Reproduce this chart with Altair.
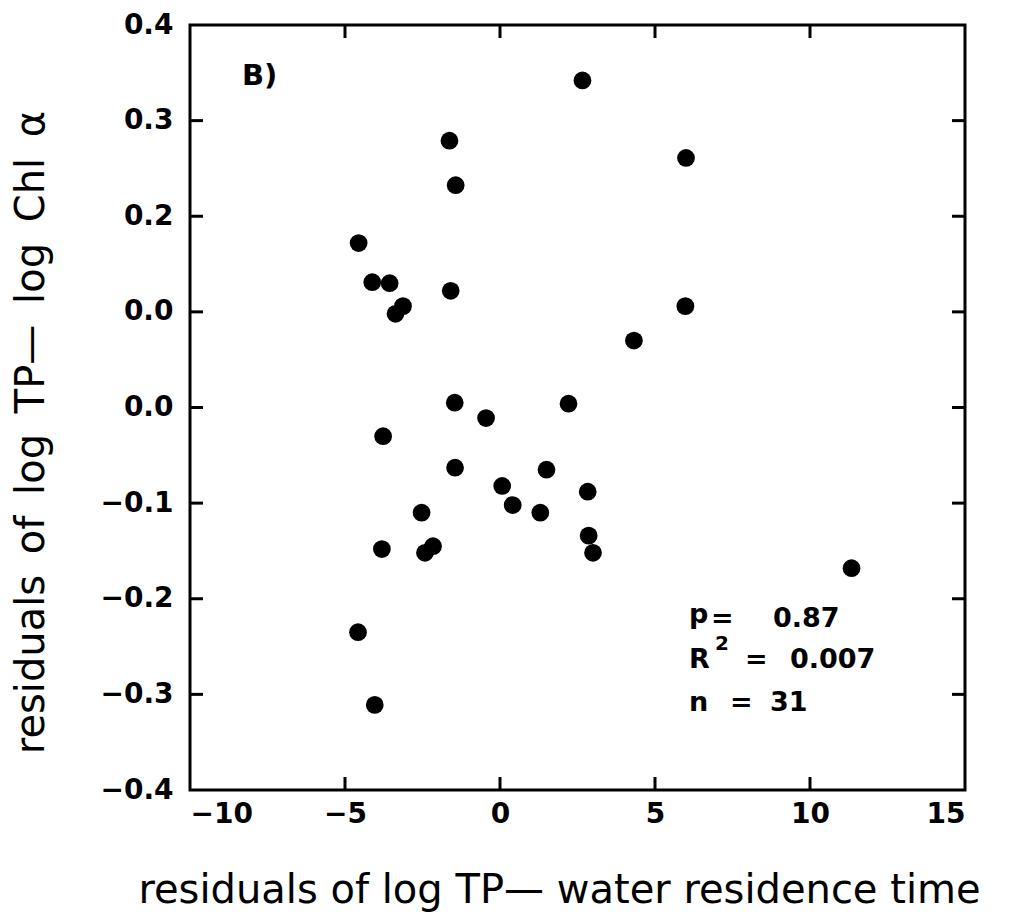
import json
import altair as alt
import pandas as pd

# ---- data ----
x_vals = [2.66, -1.63, -1.43, 6.0, -4.56, -4.12, -3.56, -3.37, -3.13, -1.59, 5.98,
          4.32, -1.46, -0.45, 2.21, -3.77, -1.45, 1.50, 0.07, 2.83, 0.41, 1.30,
          -2.53, -3.81, -2.42, -2.16, 2.86, 3.0, -4.58, -4.04, 11.34]
y_vals = [0.342, 0.279, 0.2325, 0.261, 0.172, 0.131, 0.130, 0.098, 0.106, 0.122, 0.106,
          0.070, 0.005, -0.011, 0.004, -0.030, -0.063, -0.065, -0.082, -0.088, -0.102, -0.110,
          -0.110, -0.148, -0.152, -0.145, -0.134, -0.152, -0.235, -0.311, -0.168]

x_ticks = [-10, -5, 0, 5, 10, 15]
x_tick_labels = ["\u221210", "\u22125", "0", "5", "10", "15"]
y_ticks = [-0.4, -0.3, -0.2, -0.1, 0.0, 0.1, 0.2, 0.3, 0.4]
y_tick_labels = ["\u22120.4", "\u22120.3", "\u22120.2", "\u22120.1", "0.0", "0.0", "0.2", "0.3", "0.4"]
x_inner_ticks = [-5, 0, 5, 10]
y_inner_ticks = [-0.3, -0.2, -0.1, 0.0, 0.1, 0.2, 0.3]

x_title = "residuals of log TP\u2014 water residence time"
y_title = "residuals\u2009 of\u2009 log\u2009 TP\u2014\u2009 log\u2009 Chl\u2009 \u03b1"

df = pd.DataFrame({"x": x_vals, "y": y_vals})

W, H = 775, 765
FONT = "DejaVu Sans"
TICK = 13


def label_expr(values, labels):
    return f"{json.dumps(labels)}[indexof({json.dumps(values)}, datum.value)]"


xscale = alt.Scale(domain=[-10, 15], nice=False, zero=False)
yscale = alt.Scale(domain=[-0.4, 0.4], nice=False, zero=False)

x_axis = alt.Axis(values=x_ticks, labelExpr=label_expr(x_ticks, x_tick_labels),
                  ticks=False, tickSize=0, domain=False, grid=False,
                  labelPadding=10, labelFont=FONT, labelFontSize=28, labelFontWeight="bold",
                  labelColor="black", title=x_title, titleFont=FONT, titleFontSize=40,
                  titleFontWeight="normal", titleColor="black", titlePadding=42,
                  titleX=369)
y_axis = alt.Axis(values=y_ticks, labelExpr=label_expr(y_ticks, y_tick_labels),
                  ticks=False, tickSize=0, domain=False, grid=False,
                  labelPadding=17, labelFont=FONT, labelFontSize=28, labelFontWeight="bold",
                  labelColor="black", title=y_title, titleFont=FONT, titleFontSize=40,
                  titleFontWeight="normal", titleColor="black", titlePadding=48,
                  titleY=407)

points = alt.Chart(df).mark_circle(size=315, color="black", opacity=1).encode(
    x=alt.X("x:Q", scale=xscale, axis=x_axis),
    y=alt.Y("y:Q", scale=yscale, axis=y_axis),
)

xt = pd.DataFrame({"v": x_inner_ticks})
yt = pd.DataFrame({"v": y_inner_ticks})
rule_style = dict(color="black", strokeWidth=3)

bottom_ticks = alt.Chart(xt).mark_rule(**rule_style).encode(
    x=alt.X("v:Q", scale=xscale, axis=x_axis), y=alt.value(H), y2=alt.value(H - TICK))
top_ticks = alt.Chart(xt).mark_rule(**rule_style).encode(
    x=alt.X("v:Q", scale=xscale, axis=x_axis), y=alt.value(0), y2=alt.value(TICK))
left_ticks = alt.Chart(yt).mark_rule(**rule_style).encode(
    y=alt.Y("v:Q", scale=yscale, axis=y_axis), x=alt.value(0), x2=alt.value(TICK))
right_ticks = alt.Chart(yt).mark_rule(**rule_style).encode(
    y=alt.Y("v:Q", scale=yscale, axis=y_axis), x=alt.value(W - TICK), x2=alt.value(W))


def note(text, x, y, size=27):
    return alt.Chart(alt.Data(values=[{}])).mark_text(
        text=text, font=FONT, fontSize=size, fontWeight="bold", color="black",
        align="left", baseline="alphabetic").encode(x=alt.value(x), y=alt.value(y))


notes = [
    note("B)", 52, 60, 29),
    note("p", 499, 598),
    note("=", 521, 602),
    note("0.87", 583, 602),
    note("2", 525, 625, 20),
    note("R", 499, 643),
    note("=", 555, 643),
    note("0.007", 600, 643),
    note("n", 499, 686),
    note("=", 540, 686),
    note("31", 580, 686),
]

chart = alt.layer(points, bottom_ticks, top_ticks, left_ticks, right_ticks, *notes).properties(
    width=W, height=H,
    padding={"left": 190, "top": 25, "right": 1025 - 190 - W, "bottom": 916 - 25 - H},
    autosize=alt.AutoSizeParams(type="none"),
).configure_view(stroke="black", strokeWidth=3)

chart.save("out.html", embed_options={"renderer": "svg", "actions": False})
